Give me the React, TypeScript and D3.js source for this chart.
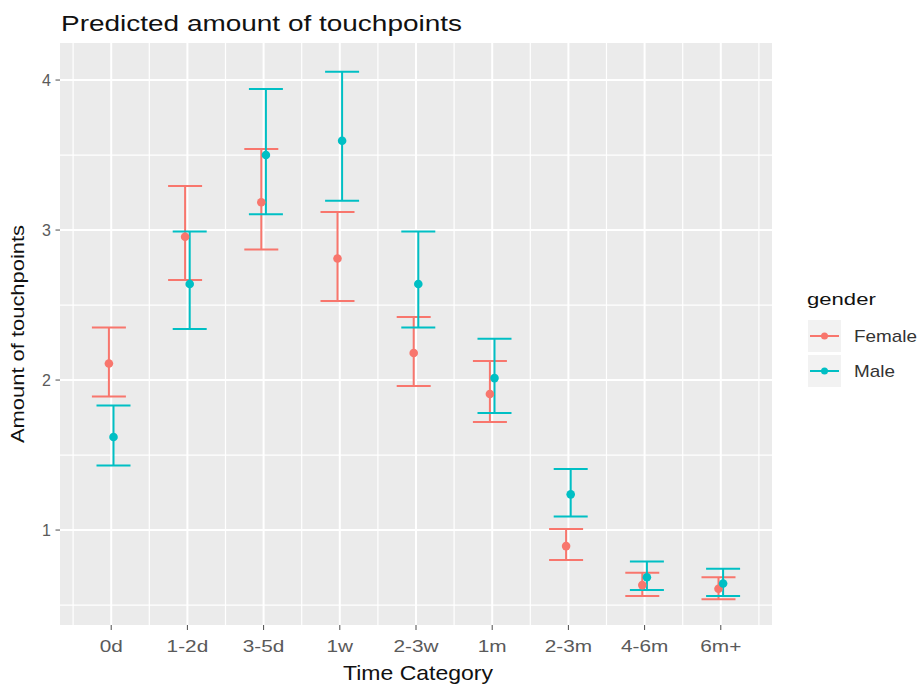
import * as d3 from "d3";

// Categories and series values
const categories = ["0d", "1-2d", "3-5d", "1w", "2-3w", "1m", "2-3m", "4-6m", "6m+"];

const femaleFit = [2.11, 2.955, 3.185, 2.81, 2.18, 1.907, 0.893, 0.633, 0.609];
const femaleLower = [1.89, 2.667, 2.87, 2.527, 1.96, 1.72, 0.8, 0.56, 0.538];
const femaleUpper = [2.35, 3.293, 3.54, 3.12, 2.42, 2.127, 1.007, 0.715, 0.685];

const maleFit = [1.62, 2.64, 3.5, 3.595, 2.64, 2.013, 1.238, 0.685, 0.644];
const maleLower = [1.43, 2.34, 3.105, 3.195, 2.35, 1.78, 1.091, 0.6, 0.56];
const maleUpper = [1.83, 2.99, 3.94, 4.055, 2.99, 2.275, 1.407, 0.79, 0.742];

const yTicks = [1, 2, 3, 4];
const yMinorTicks = [0.5, 1.5, 2.5, 3.5];

const series = [
  { name: "Female", color: "#F8766D", fit: femaleFit, lo: femaleLower, hi: femaleUpper, dodge: -2.3 },
  { name: "Male", color: "#00BFC4", fit: maleFit, lo: maleLower, hi: maleUpper, dodge: 2.3 },
];

const W = 920;
const H = 688;
const PANEL = { left: 60, right: 772, top: 43, bottom: 625 };
const FONT = "'Liberation Sans', Arial, sans-serif";
const STRETCH = 1.3; // text in the reference is drawn wide
const CAP = 17; // half width of the error bar caps

export default function App() {
  const x = d3
    .scalePoint<string>()
    .domain(categories)
    .range([PANEL.left, PANEL.right])
    .padding(0.672);

  const y = d3.scaleLinear().domain([0.367, 4.247]).range([PANEL.bottom, PANEL.top]);

  const step = x.step();
  const xMinor = [...categories.map((c) => (x(c) as number) - step / 2), (x(categories[categories.length - 1]) as number) + step / 2];

  return (
    <div style={{ position: "absolute", left: 0, top: 0 }}>
      <svg width={W} height={H} style={{ display: "block", background: "#fff" }} fontFamily={FONT}>
        {/* title */}
        <text x={61} y={31} fontSize={22} fill="#111" textLength={401} lengthAdjust="spacingAndGlyphs">
          Predicted amount of touchpoints
        </text>

        {/* panel */}
        <rect
          x={PANEL.left}
          y={PANEL.top}
          width={PANEL.right - PANEL.left}
          height={PANEL.bottom - PANEL.top}
          fill="#EBEBEB"
        />

        {/* grid */}
        {yMinorTicks.map((t) => (
          <line key={"ym" + t} x1={PANEL.left} x2={PANEL.right} y1={y(t)} y2={y(t)} stroke="#fff" strokeWidth={1.2} />
        ))}
        {xMinor.map((v, i) => (
          <line key={"xm" + i} x1={v} x2={v} y1={PANEL.top} y2={PANEL.bottom} stroke="#fff" strokeWidth={1.2} />
        ))}
        {yTicks.map((t) => (
          <line key={"y" + t} x1={PANEL.left} x2={PANEL.right} y1={y(t)} y2={y(t)} stroke="#fff" strokeWidth={2} />
        ))}
        {categories.map((c) => (
          <line key={"x" + c} x1={x(c)} x2={x(c)} y1={PANEL.top} y2={PANEL.bottom} stroke="#fff" strokeWidth={2} />
        ))}

        {/* error bars */}
        {series.map((s) =>
          categories.map((c, i) => {
            const cx = (x(c) as number) + s.dodge;
            return (
              <g key={s.name + c} stroke={s.color} strokeWidth={2} fill="none">
                <line x1={cx} x2={cx} y1={y(s.lo[i])} y2={y(s.hi[i])} />
                <line x1={cx - CAP} x2={cx + CAP} y1={y(s.hi[i])} y2={y(s.hi[i])} />
                <line x1={cx - CAP} x2={cx + CAP} y1={y(s.lo[i])} y2={y(s.lo[i])} />
              </g>
            );
          })
        )}

        {/* points */}
        {series.map((s) =>
          categories.map((c, i) => (
            <circle key={"p" + s.name + c} cx={(x(c) as number) + s.dodge} cy={y(s.fit[i])} r={4.3} fill={s.color} />
          ))
        )}

        {/* y axis */}
        {yTicks.map((t) => (
          <g key={"yt" + t}>
            <line x1={55.5} x2={PANEL.left} y1={y(t)} y2={y(t)} stroke="#4D4D4D" strokeWidth={1} />
            <text x={51} y={y(t) + 5.5} fontSize={16} fill="#5A5A5A" textAnchor="end">
              {t}
            </text>
          </g>
        ))}
        <text
          transform={`translate(24, ${(PANEL.top + PANEL.bottom) / 2}) rotate(-90)`}
          fontSize={18}
          textAnchor="middle"
          fill="#111"
          textLength={218}
          lengthAdjust="spacingAndGlyphs"
        >
          Amount of touchpoints
        </text>

        {/* x axis */}
        {categories.map((c) => (
          <g key={"xt" + c}>
            <line x1={x(c)} x2={x(c)} y1={PANEL.bottom} y2={PANEL.bottom + 5} stroke="#4D4D4D" strokeWidth={1} />
            <text
              transform={`translate(${x(c)}, 652) scale(${STRETCH}, 1)`}
              fontSize={16}
              fill="#5A5A5A"
              textAnchor="middle"
            >
              {c}
            </text>
          </g>
        ))}
        <text
          x={(PANEL.left + PANEL.right) / 2 + 2}
          y={680}
          fontSize={21}
          fill="#111"
          textAnchor="middle"
          textLength={150}
          lengthAdjust="spacingAndGlyphs"
        >
          Time Category
        </text>

        {/* legend */}
        <text transform={`translate(807, 305) scale(${STRETCH}, 1)`} fontSize={17} fill="#111">
          gender
        </text>
        {series.map((s, i) => {
          const ky = 320 + i * 35;
          return (
            <g key={"lg" + s.name}>
              <rect x={808} y={ky} width={33} height={32} fill="#F2F2F2" />
              <line x1={810} x2={839} y1={ky + 16} y2={ky + 16} stroke={s.color} strokeWidth={2} />
              <circle cx={824.5} cy={ky + 16} r={3.5} fill={s.color} />
              <text transform={`translate(854, ${ky + 22}) scale(1.18, 1)`} fontSize={16} fill="#333">
                {s.name}
              </text>
            </g>
          );
        })}
      </svg>
    </div>
  );
}
